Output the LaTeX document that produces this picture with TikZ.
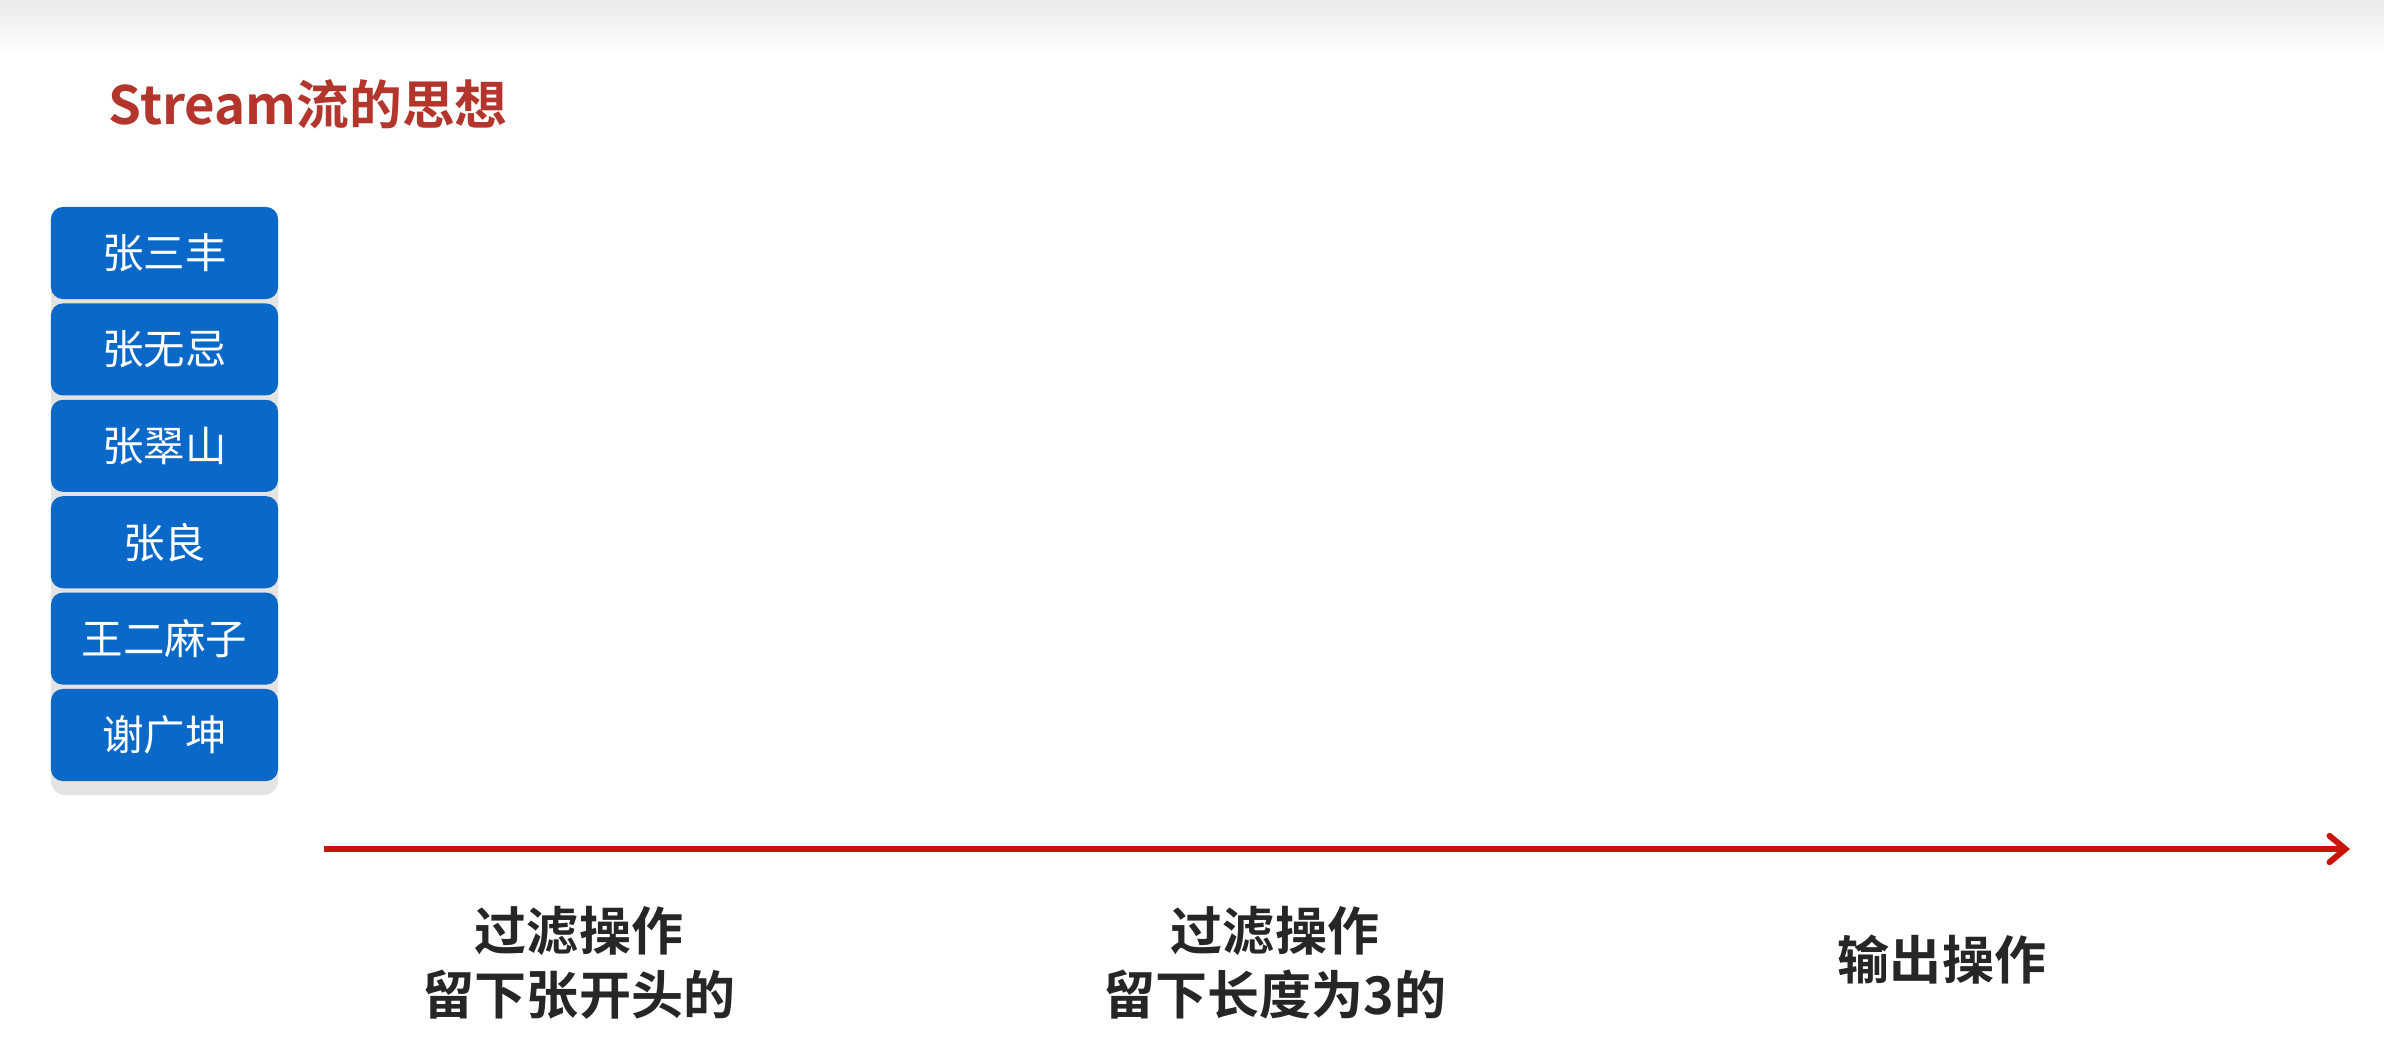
\documentclass[tikz,border=0pt]{standalone}
\usepackage{fontspec}
\setmainfont{Noto Sans CJK SC}
\newfontfamily\cjkbold{Noto Sans CJK SC Bold}
\usetikzlibrary{arrows.meta}
\definecolor{namblue}{HTML}{0A68C8}
\definecolor{titlered}{HTML}{B3352B}
\definecolor{flowred}{HTML}{C8140A}
\definecolor{stackgray}{HTML}{E3E3E3}

\begin{document}
\begin{tikzpicture}[x=0.01cm,y=-0.01cm,
	namebox/.style={fill=namblue,rounded corners=0.12cm,minimum width=2.27cm,minimum height=0.92cm,inner sep=0pt,text=white,font=\fontsize{11.8}{13}\selectfont},
	oplabel/.style={align=center,text=black!85,font=\cjkbold\fontsize{14.8}{18.2}\selectfont}]
			\useasboundingbox[fill=white] (0,0) rectangle (2384,1056);
			\shade[top color=black!8,bottom color=white] (0,0) rectangle (2384,55);
			\node[anchor=west,inner sep=0pt,text=titlered,font=\cjkbold\fontsize{15}{17}\selectfont] (title) at (108,104) {Stream流的思想};
			
			\fill[stackgray,rounded corners=0.14cm] (51,207) rectangle (278,795);
			\foreach \name [count=\i] in {张三丰,张无忌,张翠山,张良,王二麻子,谢广坤}
				\node[namebox] (n\i) at (164.5,253+96.4*\i-96.4) {\name};
			
			\coordinate (s) at (324,849);
			\coordinate (e) at (2350,849);
			\draw[flowred,line width=1.7pt,-{Straight Barb[length=4.5pt,width=7.5pt,line cap=round]}] (s)--(e);
			
			\node[oplabel] (op1) at (579,963) {过滤操作\\留下张开头的};
			\node[oplabel] (op2) at (1275,963) {过滤操作\\留下长度为3的};
			\node[oplabel] (op3) at (1942,960) {输出操作};

		\end{tikzpicture}
\end{document}
